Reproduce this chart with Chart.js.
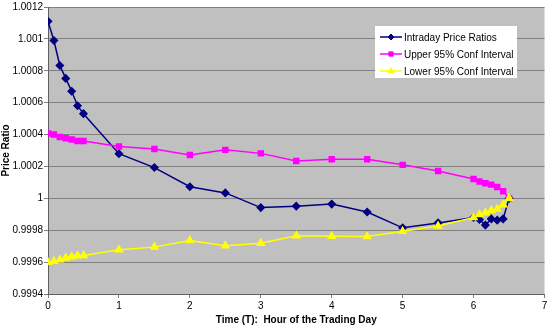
<!DOCTYPE html>
<html>
<head>
<meta charset="utf-8">
<script src="https://cdn.jsdelivr.net/npm/chart.js@4"></script>
<style>
  body { margin: 0; background: #fff; }
</style>
</head>
<body>
<canvas id="ratioChart" width="550" height="326"></canvas>
<script>
// hours into the trading day (5 minute steps at open and close)
var hours = [0, 0.0833, 0.1667, 0.25, 0.3333, 0.4167, 0.5, 1, 1.5, 2, 2.5, 3, 3.5, 4, 4.5, 5, 5.5,
  6, 6.0833, 6.1667, 6.25, 6.3333, 6.4167, 6.5];

var intradayRatios = [1.00111, 1.00099, 1.000833, 1.000752, 1.000672, 1.000581, 1.000531, 1.00028,
  1.000193, 1.000073, 1.000034, 0.999942, 0.999951, 0.999964, 0.999914, 0.999815, 0.999846,
  0.99988, 0.999868, 0.999832, 0.999871, 0.999863, 0.999871, 1.0];

var upperConf = [1.000406, 1.0004, 1.000385, 1.000377, 1.000369, 1.00036, 1.00036, 1.000325,
  1.000309, 1.000272, 1.000304, 1.000282, 1.000234, 1.000245, 1.000245, 1.00021, 1.000172,
  1.000121, 1.000106, 1.000094, 1.000086, 1.000071, 1.000044, 1.0];

var lowerConf = [0.999599, 0.999605, 0.999615, 0.999626, 0.999634, 0.99964, 0.999642, 0.999677,
  0.999694, 0.999735, 0.999702, 0.999719, 0.999766, 0.999762, 0.99976, 0.999793, 0.999826,
  0.99988, 0.999898, 0.99991, 0.999923, 0.999933, 0.99996, 1.0];

var seriesNames = ['Intraday Price Ratios', 'Upper 95% Conf Interval', 'Lower 95% Conf Interval'];

function toPoints(values) {
  return values.map(function (v, i) {
    return { x: hours[i], y: v };
  });
}

var fontFamily = '"Liberation Sans", Arial, sans-serif';

// grey plot area like the old spreadsheet charts
var plotBackground = {
  id: 'plotBackground',
  beforeDraw: function (chart) {
    var a = chart.chartArea;
    var ctx = chart.ctx;
    ctx.save();
    ctx.fillStyle = '#c0c0c0';
    ctx.fillRect(a.left, a.top, a.right - a.left, a.bottom - a.top);
    ctx.restore();
  }
};

// legend box sitting inside the plot, top right
var boxLegend = {
  id: 'boxLegend',
  afterDraw: function (chart) {
    var ctx = chart.ctx;
    var x = 375, y = 26, w = 142, h = 52;
    ctx.save();
    ctx.fillStyle = '#ffffff';
    ctx.fillRect(x, y, w, h);
    ctx.font = '10px ' + fontFamily;
    ctx.textBaseline = 'middle';
    ctx.textAlign = 'left';
    chart.data.datasets.forEach(function (ds, i) {
      var rowY = 37 + i * 17;
      ctx.strokeStyle = ds.borderColor;
      ctx.lineWidth = ds.borderWidth;
      ctx.beginPath();
      ctx.moveTo(380, rowY);
      ctx.lineTo(402, rowY);
      ctx.stroke();
      ctx.fillStyle = ds.pointBackgroundColor;
      ctx.strokeStyle = ds.pointBorderColor;
      ctx.lineWidth = 1;
      Chart.helpers.drawPoint(ctx, {
        pointStyle: ds.pointStyle,
        radius: ds.pointRadius - 0.5,
        borderWidth: 1,
        rotation: 0
      }, 391, rowY);
      ctx.fillStyle = '#000000';
      ctx.fillText(ds.label, 404, rowY + 1);
    });
    ctx.restore();
  }
};

var ctx = document.getElementById('ratioChart').getContext('2d');
var ratioChart = new Chart(ctx, {
  type: 'line',
  data: {
    datasets: [{
      label: seriesNames[0],
      data: toPoints(intradayRatios),
      borderColor: '#000080',
      backgroundColor: '#000080',
      pointBackgroundColor: '#000080',
      pointBorderColor: '#000080',
      borderWidth: 1.5,
      pointStyle: 'rectRot',
      pointRadius: 3.5,
      order: 3,
      fill: false
    }, {
      label: seriesNames[1],
      data: toPoints(upperConf),
      borderColor: '#ff00ff',
      backgroundColor: '#ff00ff',
      pointBackgroundColor: '#ff00ff',
      pointBorderColor: '#ff00ff',
      borderWidth: 1.5,
      pointStyle: 'rect',
      pointRadius: 3.5,
      order: 2,
      fill: false
    }, {
      label: seriesNames[2],
      data: toPoints(lowerConf),
      borderColor: '#ffff00',
      backgroundColor: '#ffff00',
      pointBackgroundColor: '#ffff00',
      pointBorderColor: '#ffff00',
      borderWidth: 1.5,
      pointStyle: 'triangle',
      pointRadius: 4,
      order: 1,
      fill: false
    }]
  },
  options: {
    responsive: false,
    animation: false,
    layout: { padding: { top: 4, right: 3, left: 0, bottom: 0 } },
    plugins: {
      legend: { display: false },
      tooltip: { enabled: false }
    },
    scales: {
      x: {
        type: 'linear',
        min: 0,
        max: 7,
        afterFit: function (scale) { scale.height = 32; },
        ticks: {
          stepSize: 1,
          color: '#000',
          padding: 2,
          font: { family: fontFamily, size: 10 }
        },
        grid: {
          drawOnChartArea: false,
          tickLength: 4,
          color: '#808080'
        },
        border: { color: '#606060', width: 1 },
        title: {
          display: true,
          text: 'Time (T):  Hour of the Trading Day',
          color: '#000',
          font: { family: fontFamily, size: 10, weight: 'bold' },
          padding: { top: 0, bottom: 0 }
        }
      },
      y: {
        min: 0.9994,
        max: 1.0012,
        afterFit: function (scale) { scale.width = 48; },
        ticks: {
          stepSize: 0.0002,
          color: '#000',
          padding: 1,
          font: { family: fontFamily, size: 10 },
          callback: function (value) {
            return String(Number(value.toFixed(4)));
          }
        },
        grid: {
          color: '#808080',
          tickLength: 4
        },
        border: { color: '#606060', width: 1 },
        title: {
          display: true,
          text: 'Price Ratio',
          color: '#000',
          font: { family: fontFamily, size: 10, weight: 'bold' },
          padding: { top: 0, bottom: 2 }
        }
      }
    }
  },
  plugins: [plotBackground, boxLegend]
});
</script>
</body>
</html>
